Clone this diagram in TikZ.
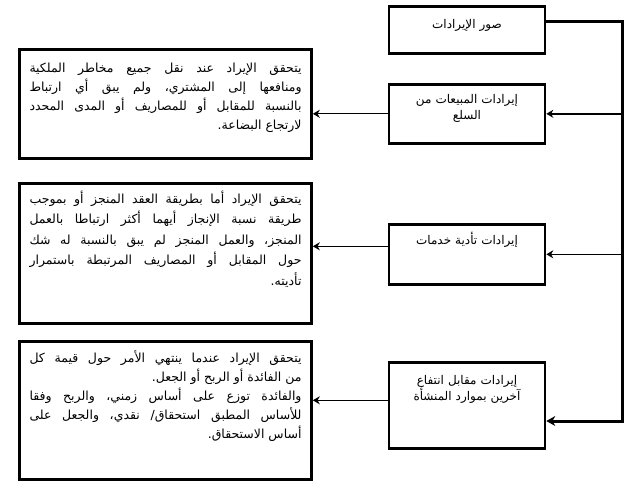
\documentclass[tikz,border=0pt]{standalone}
\usepackage{fontspec}
\newfontfamily\arabicfont[Script=Arabic]{DejaVu Sans}
\TeXXeTstate=1
\usetikzlibrary{arrows.meta}
\newlength\rlfull
\newlength\rlnat
\newlength\rlwide
\newlength\rlgap
% one justified right-to-left line
\newcommand{\rl}[1]{%
  \rlfull=\hsize
  \setbox0\hbox{\beginR #1\endR}\rlnat=\wd0
  \setbox0\hbox{\spaceskip=2\fontdimen2\font\beginR #1\endR}\rlwide=\wd0
  \rlgap=\fontdimen2\font
  \pgfmathsetlength{\rlgap}{\rlgap*(1+(\rlfull-\rlnat)/(\rlwide-\rlnat))}%
  \hbox to\hsize{\spaceskip=\rlgap\relax\beginR #1\endR\hss}}
% last line of a paragraph, flush right
\newcommand{\rlend}[1]{\hbox to\hsize{\hfill\beginR #1\endR}}
\newcommand{\rc}[1]{\beginR #1\endR}

\tikzset{
  kind/.style={draw, line width=2.6pt, inner xsep=8pt, inner ysep=0pt, text width=140pt,
    align=center, anchor=north, font=\arabicfont\fontsize{12}{16}\selectfont},
  note/.style={draw, line width=2.6pt, inner xsep=10pt, inner ysep=0pt,
    anchor=north, font=\arabicfont\frenchspacing\fontsize{12.5}{19}\selectfont},
  branch/.style={line width=1.6pt, -{Stealth[length=7pt,width=8pt]}},
  feed/.style={line width=1.1pt, -{Stealth[length=7pt,width=8pt]}},
  trunk/.style={line width=3pt, line join=miter, -{Stealth[length=9pt,width=10pt]}}
}

\begin{document}
\begin{tikzpicture}[x=1pt, y=-1pt]
  \useasboundingbox (0,0) rectangle (640,483);

  % revenue kinds
  \node[kind, text height=22pt, text depth=25pt] (src) at (467,5) {\rc{صور الإيرادات}};
  \node[kind, text height=19pt, text depth=40pt] (sales) at (467,83) {\rc{إيرادات المبيعات من}\\\rc{السلع}};
  \node[kind, text height=20pt, text depth=40pt] (services) at (467,223) {\rc{إيرادات تأدية خدمات}};
  \node[kind, text height=22pt, text depth=64pt] (rent) at (467,361) {\rc{إيرادات مقابل انتفاع}\\\rc{آخرين بموارد المنشأة}};

  % recognition notes
  \node[note, text height=23pt, text depth=86pt] (note1) at (165.5,48) {\vtop{\hsize=272pt
    \rl{يتحقق الإيراد عند نقل جميع مخاطر الملكية}
    \rl{ومنافعها إلى المشتري، ولم يبق أي ارتباط}
    \rl{بالنسبة للمقابل أو للمصاريف أو المدى المحدد}
    \rlend{لارتجاع البضاعة.}}};
  \node[note, text height=20pt, text depth=120pt, font=\arabicfont\frenchspacing\fontsize{12.5}{20.5}\selectfont] (note2) at (165.5,182) {\vtop{\hsize=272pt
    \rl{يتحقق الإيراد أما بطريقة العقد المنجز أو بموجب}
    \rl{طريقة نسبة الإنجاز أيهما أكثر ارتباطا بالعمل}
    \rl{المنجز، والعمل المنجز لم يبق بالنسبة له شك}
    \rl{حول المقابل أو المصاريف المرتبطة باستمرار}
    \rlend{تأديته.}}};
  \node[note, text height=21pt, text depth=117pt] (note3) at (165.5,340) {\vtop{\hsize=272pt
    \rl{يتحقق الإيراد عندما ينتهي الأمر حول قيمة كل}
    \rlend{من الفائدة أو الربح أو الجعل.}
    \rl{والفائدة توزع على أساس زمني، والربح وفقا}
    \rl{للأساس المطبق استحقاق/ نقدي، والجعل على}
    \rlend{أساس الاستحقاق.}}};

  % trunk and branches
  \coordinate (trunktop) at (622,21);
  \coordinate (trunkend) at (622,421);
  \draw[trunk] (trunktop -| src.east) -- (trunktop) -- (trunkend) -- (trunkend -| rent.east);
  \draw[branch] (trunktop |- sales.east) -- (sales.east);
  \draw[branch] (trunktop |- services.east) -- (services.east);

  % to the notes
  \draw[feed] (sales.west) -- (sales.west -| note1.east);
  \coordinate (out3) at ([yshift=8pt]services.west);
  \draw[feed] (out3) -- (out3 -| note2.east);
  \coordinate (out4) at ([yshift=5pt]rent.west);
  \draw[feed] (out4) -- (out4 -| note3.east);
\end{tikzpicture}
\end{document}
